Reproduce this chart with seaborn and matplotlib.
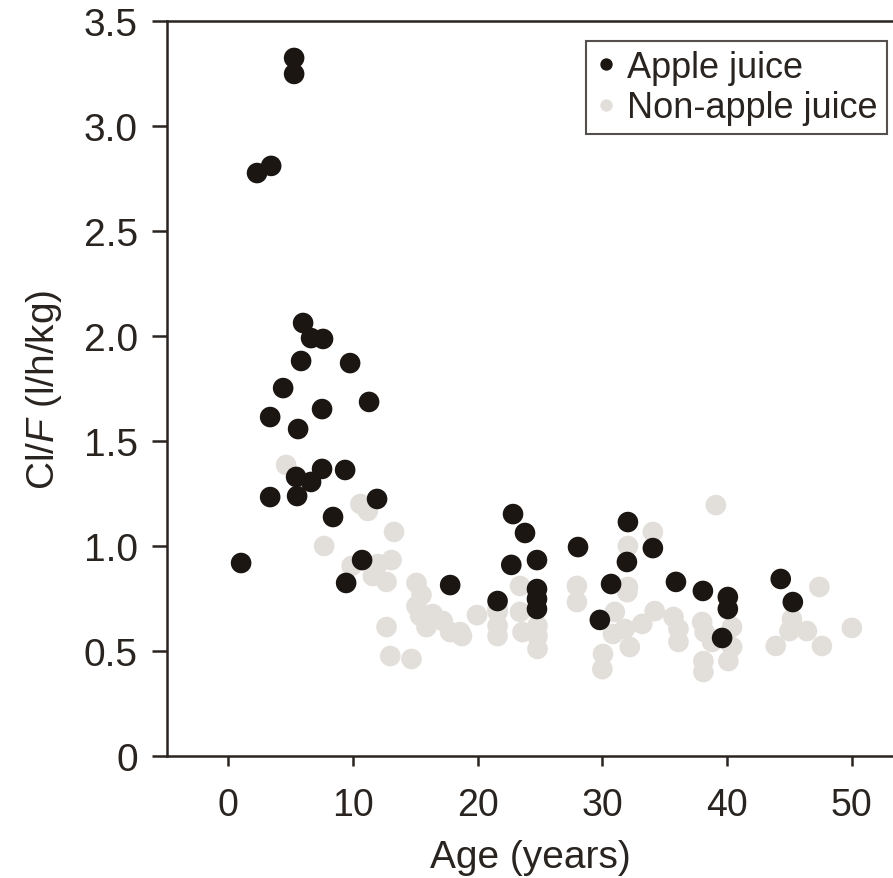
import pandas as pd
import seaborn as sns
import matplotlib.pyplot as plt

sns.set_theme(style="ticks")
plt.rcParams["font.family"] = ["Liberation Sans", "DejaVu Sans"]
plt.rcParams["mathtext.fontset"] = "custom"
plt.rcParams["mathtext.it"] = "Liberation Sans:italic"
plt.rcParams["mathtext.rm"] = "Liberation Sans"

# non-apple juice (drawn first, behind)
other_age = [4.65, 10.6, 11.2, 13.3, 7.7, 9.9, 12.0, 13.1, 11.6, 12.7, 15.1, 15.5,
             15.1, 15.4, 16.4, 17.2, 15.9, 17.8, 12.7, 13.0, 14.7, 18.75, 19.95,
             21.6, 21.6, 21.6, 21.6, 18.6, 23.4, 23.4, 23.6, 24.8, 24.8, 24.8,
             27.96, 27.96, 34.05, 32.05, 32.05, 32.0, 31.0, 31.8, 33.2, 34.2,
             35.7, 36.1, 36.1, 30.05, 30.0, 30.85, 32.2, 39.1, 38.0, 38.2, 40.4,
             40.4, 40.1, 38.1, 38.1, 38.8, 47.4, 45.2, 45.0, 46.4, 43.9, 47.6, 50.0]
other_cl = [1.386, 1.20, 1.167, 1.067, 1.00, 0.905, 0.914, 0.933, 0.857, 0.829, 0.824, 0.767,
            0.714, 0.667, 0.676, 0.643, 0.614, 0.59, 0.614, 0.476, 0.462, 0.571, 0.671,
            0.70, 0.686, 0.62, 0.571, 0.59, 0.81, 0.686, 0.59, 0.62, 0.57, 0.51,
            0.81, 0.733, 1.067, 1.0, 0.805, 0.78, 0.686, 0.605, 0.629, 0.69,
            0.662, 0.543, 0.605, 0.486, 0.414, 0.581, 0.519, 1.195, 0.638, 0.59, 0.614,
            0.519, 0.452, 0.452, 0.40, 0.543, 0.805, 0.652, 0.595, 0.595, 0.524, 0.524, 0.61]

# apple juice
apple_age = [1.04, 2.32, 3.45, 5.29, 5.29, 6.01, 6.65, 7.61, 5.85, 9.78, 4.41, 11.3,
             7.53, 3.37, 5.61, 5.45, 6.65, 7.53, 9.38, 3.37, 5.53, 11.94, 8.41, 10.74,
             9.46, 17.8, 22.84, 23.8, 22.7, 24.76, 21.6, 24.76, 24.76, 24.76, 28.05,
             32.05, 34.05, 31.97, 30.7, 29.8, 35.9, 38.06, 40.06, 40.06, 39.6, 44.3, 45.27]
apple_cl = [0.919, 2.776, 2.81, 3.324, 3.248, 2.062, 1.99, 1.986, 1.881, 1.871, 1.752, 1.686,
            1.652, 1.614, 1.557, 1.329, 1.305, 1.367, 1.362, 1.233, 1.238, 1.224, 1.138, 0.933,
            0.824, 0.814, 1.152, 1.062, 0.91, 0.933, 0.738, 0.795, 0.748, 0.70, 0.995,
            1.114, 0.99, 0.924, 0.819, 0.648, 0.829, 0.786, 0.757, 0.70, 0.562, 0.843, 0.733]

df = pd.DataFrame({
    "age": other_age + apple_age,
    "cl": other_cl + apple_cl,
    "group": ["Non-apple juice"] * len(other_age) + ["Apple juice"] * len(apple_age),
})

fig = plt.figure(figsize=(8.93, 8.79), dpi=100)
ax = fig.add_axes([167 / 893, 1 - 757 / 879, 1 - 167 / 893, (757 - 22) / 879])

sns.scatterplot(data=df, x="age", y="cl", hue="group",
                hue_order=["Apple juice", "Non-apple juice"],
                palette=["#1c1612", "#e2dfdb"], s=220, linewidth=0, ax=ax)

ax.set_xlim(-4.9, 53.3)
ax.set_ylim(0, 3.5)
ax.set_xticks([0, 10, 20, 30, 40, 50])
ax.set_yticks([0, 0.5, 1.0, 1.5, 2.0, 2.5, 3.0, 3.5])
ax.set_yticklabels(["0", "0.5", "1.0", "1.5", "2.0", "2.5", "3.0", "3.5"])

ink = "#2a2420"
for side in ["left", "bottom", "top"]:
    ax.spines[side].set_color(ink)
    ax.spines[side].set_linewidth(1.8)
ax.spines["right"].set_visible(False)

ax.tick_params(axis="y", length=11, width=1.8, pad=10, labelsize=28, colors=ink)
ax.tick_params(axis="x", length=7, width=1.8, pad=15, labelsize=27, colors=ink)

ax.set_xlabel("Age (years)", fontsize=28, color=ink, labelpad=12)
ax.set_ylabel("Cl/$F$ (l/h/kg)", fontsize=28, color=ink, labelpad=14)

leg = ax.legend(loc="upper right", bbox_to_anchor=(887 / 893, 1 - 42 / 879),
                bbox_transform=fig.transFigure, borderaxespad=0, frameon=True,
                fancybox=False, fontsize=26, markerscale=0.6, handlelength=0.6,
                handletextpad=0.3, borderpad=0.25, labelspacing=0.15)
leg.get_frame().set_edgecolor(ink)
leg.get_frame().set_linewidth(1.5)
for t in leg.get_texts():
    t.set_color(ink)

fig.savefig("out.png", dpi=100)
